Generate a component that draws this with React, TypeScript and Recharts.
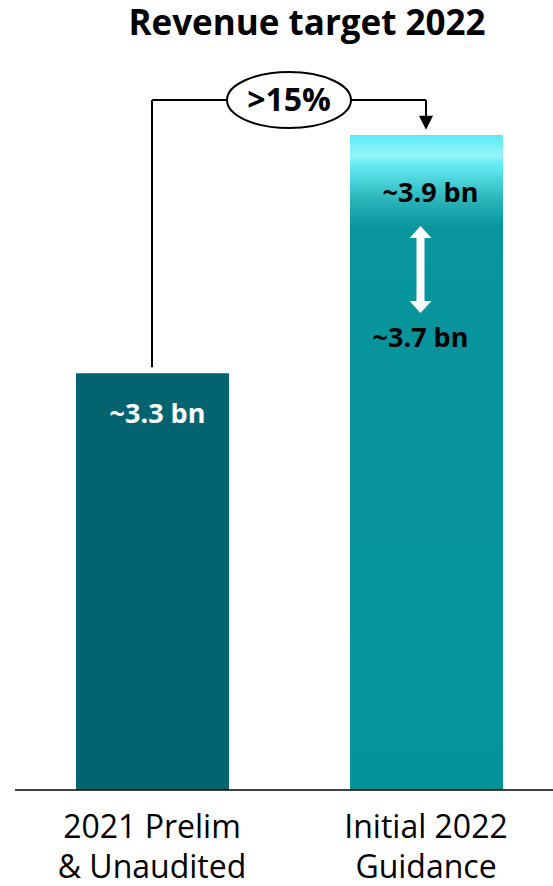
import { Bar, BarChart, Cell, LabelList, ReferenceLine, XAxis, YAxis } from 'recharts';

const title = 'Revenue target 2022';
const categories = ['2021 Prelim\n& Unaudited', 'Initial 2022\nGuidance'];
const revenue = [3.3, 3.9];
const valueLabels = ['~3.3 bn', '~3.9 bn'];
const guidanceLow = '~3.7 bn';
const growthLabel = '>15%';
const barColors = ['#03636e', 'url(#guidanceFill)'];

const data = categories.map((name, i) => ({ name, revenue: revenue[i] }));

const FONT = '"Open Sans", Lato, sans-serif';

function CategoryTick({ x, y, payload }: any) {
    const lines = String(payload.value).split('\n');
    return (
        <text x={x} y={y} textAnchor="middle" fontSize={32} fill="#000" fontFamily={FONT}>
            {lines.map((line, i) => (
                <tspan key={i} x={x} dy={40}>
                    {line}
                </tspan>
            ))}
        </text>
    );
}

function ValueLabel(props: any) {
    const { x, y, width, index } = props;
    const cx = x + width / 2;
    if (index === 0) {
        return (
            <text x={cx + 5} y={y + 50} textAnchor="middle" fontSize={27} fontWeight={700} fill="#fff" fontFamily={FONT}>
                {valueLabels[0]}
            </text>
        );
    }
    // range arrow between guidance bounds
    const ax = cx - 6;
    const top = y + 91;
    const bottom = y + 178;
    return (
        <g>
            <text x={cx + 4} y={y + 67} textAnchor="middle" fontSize={27} fontWeight={700} fill="#000" fontFamily={FONT}>
                {valueLabels[1]}
            </text>
            <path
                d={`M${ax},${top} L${ax + 11},${top + 12} L${ax + 4},${top + 12} L${ax + 4},${bottom - 12} L${ax + 11},${bottom - 12} L${ax},${bottom} L${ax - 11},${bottom - 12} L${ax - 4},${bottom - 12} L${ax - 4},${top + 12} L${ax - 11},${top + 12} Z`}
                fill="#fff"
            />
            <text x={cx - 6} y={y + 212} textAnchor="middle" fontSize={27} fontWeight={700} fill="#000" fontFamily={FONT}>
                {guidanceLow}
            </text>
        </g>
    );
}

function ArrowDown(props: any) {
    const { x1, y1, x2, y2 } = props;
    return (
        <g>
            <line x1={x1} y1={y1} x2={x2} y2={y2 - 12} stroke="#000" strokeWidth={2} />
            <path d={`M${x2 - 7},${y2 - 14} L${x2 + 7},${y2 - 14} L${x2},${y2} Z`} fill="#000" />
        </g>
    );
}

function GrowthBubble(props: any) {
    const { viewBox } = props;
    const cx = viewBox.x + viewBox.width / 2;
    const cy = viewBox.y + viewBox.height / 2;
    return (
        <g>
            <ellipse cx={cx} cy={cy} rx={62} ry={28} fill="#fff" stroke="#000" strokeWidth={2} />
            <text x={cx} y={cy + 11} textAnchor="middle" fontSize={32} fontWeight={700} fill="#000" fontFamily={FONT}>
                {growthLabel}
            </text>
        </g>
    );
}

export default function App() {
    const bracketY = 3.988;
    return (
        <div style={{ position: 'absolute', left: 0, top: 0, width: 553, height: 886, overflow: 'hidden', background: '#fff' }}>
            <div
                style={{
                    position: 'absolute',
                    left: 307,
                    top: 0,
                    transform: 'translateX(-50%)',
                    whiteSpace: 'nowrap',
                    fontFamily: FONT,
                    fontWeight: 700,
                    fontSize: 35,
                    lineHeight: '44px',
                    color: '#000',
                }}
            >
                {title}
            </div>
            <BarChart width={563} height={886} data={data} margin={{ top: 135, right: 0, bottom: 0, left: 15 }}>
                <defs>
                    <linearGradient id="guidanceFill" x1="0" y1="0" x2="0" y2="1">
                        <stop offset="0" stopColor="#5ee9f3" />
                        <stop offset="0.031" stopColor="#92f5fb" />
                        <stop offset="0.046" stopColor="#64ebf3" />
                        <stop offset="0.099" stopColor="#2bb3ba" />
                        <stop offset="0.142" stopColor="#08959c" />
                        <stop offset="1" stopColor="#05939a" />
                    </linearGradient>
                </defs>
                <XAxis
                    dataKey="name"
                    height={96}
                    tickLine={false}
                    axisLine={{ stroke: '#000', strokeWidth: 1.5 }}
                    tick={<CategoryTick />}
                    interval={0}
                />
                <YAxis hide domain={[2.25, 3.9]} allowDataOverflow />
                <Bar dataKey="revenue" barSize={153} isAnimationActive={false}>
                    {data.map((d, i) => (
                        <Cell key={d.name} fill={barColors[i]} />
                    ))}
                    <LabelList dataKey="revenue" content={<ValueLabel />} />
                </Bar>
                <ReferenceLine
                    segment={[{ x: categories[0], y: 3.315 }, { x: categories[0], y: bracketY }]}
                    stroke="#000"
                    strokeWidth={2}
                    ifOverflow="visible"
                />
                <ReferenceLine
                    segment={[{ x: categories[0], y: bracketY }, { x: categories[1], y: bracketY }]}
                    stroke="#000"
                    strokeWidth={2}
                    ifOverflow="visible"
                    label={<GrowthBubble />}
                />
                <ReferenceLine
                    segment={[{ x: categories[1], y: bracketY }, { x: categories[1], y: 3.913 }]}
                    ifOverflow="visible"
                    shape={<ArrowDown />}
                />
            </BarChart>
        </div>
    );
}
